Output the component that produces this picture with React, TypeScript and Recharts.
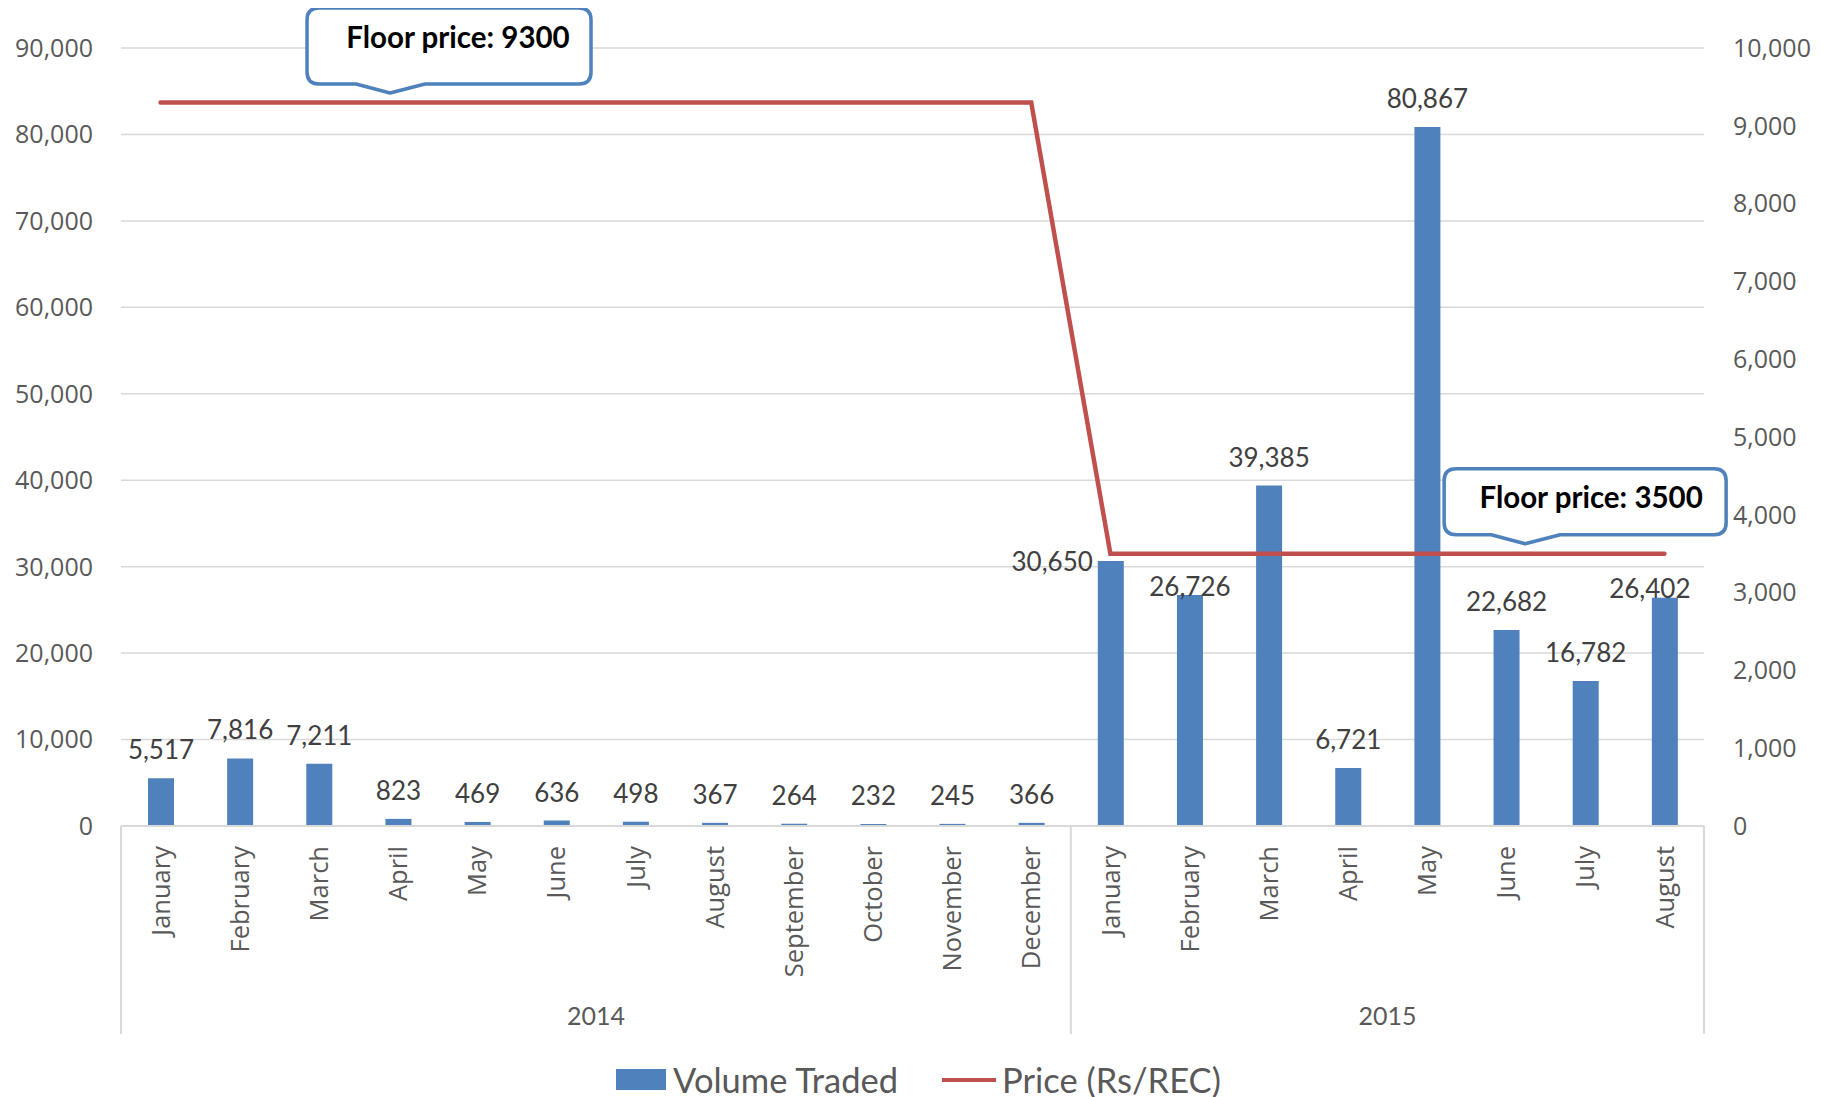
import React from 'react';
import { ComposedChart, Bar, Line, XAxis, YAxis, CartesianGrid, Legend, LabelList, ReferenceDot } from 'recharts';

const months = [
  'January', 'February', 'March', 'April', 'May', 'June', 'July', 'August',
  'September', 'October', 'November', 'December',
  'January', 'February', 'March', 'April', 'May', 'June', 'July', 'August',
];
const years = [
  2014, 2014, 2014, 2014, 2014, 2014, 2014, 2014, 2014, 2014, 2014, 2014,
  2015, 2015, 2015, 2015, 2015, 2015, 2015, 2015,
];
const volumeTraded = [
  5517, 7816, 7211, 823, 469, 636, 498, 367, 264, 232, 245, 366,
  30650, 26726, 39385, 6721, 80867, 22682, 16782, 26402,
];
const priceRsRec = [
  9300, 9300, 9300, 9300, 9300, 9300, 9300, 9300, 9300, 9300, 9300, 9300,
  3500, 3500, 3500, 3500, 3500, 3500, 3500, 3500,
];
const leftTicks = [0, 10000, 20000, 30000, 40000, 50000, 60000, 70000, 80000, 90000];
const rightTicks = [0, 1000, 2000, 3000, 4000, 5000, 6000, 7000, 8000, 9000, 10000];
const yearLabels = ['2014', '2015'];

const data = months.map((m, i) => ({
  key: `${m} ${years[i]}`,
  month: m,
  year: years[i],
  volume: volumeTraded[i],
  price: priceRsRec[i],
}));

const W = 1821;
const H = 1089;
const PLOT_W = 1583;
const BAND = PLOT_W / data.length;
const MONTH_AXIS_H = 150;
const YEAR_AXIS_H = 58;

const BLUE = '#4F81BD';
const RED = '#C0504D';
const GRID = '#D9D9D9';
const TEXT = '#595959';
const LABEL = '#404040';
const tickFont = "'Open Sans', sans-serif";
const labelFont = "Lato, 'Noto Sans', sans-serif";

const fmt = (v: number) => v.toLocaleString('en-US');

const MonthTick = (props: any) => {
  const { x, y, payload } = props;
  const m = data[payload.index]?.month ?? payload.value;
  return (
    <text
      x={x}
      y={y}
      dy="0.36em"
      transform={`rotate(-90, ${x}, ${y})`}
      textAnchor="end"
      fill={TEXT}
      fontSize={25.5}
      fontFamily={tickFont}
    >
      {m}
    </text>
  );
};

const YearTick = (props: any) => {
  const { x, y, payload } = props;
  const i = payload.index;
  const top = y - MONTH_AXIS_H;
  const bottom = y + YEAR_AXIS_H;
  const parts: React.ReactNode[] = [];
  if (i === 0 || i === 12) {
    parts.push(<line key="l" x1={x - BAND / 2} x2={x - BAND / 2} y1={top} y2={bottom} stroke={GRID} strokeWidth={2} />);
  }
  if (i === data.length - 1) {
    parts.push(<line key="r" x1={x + BAND / 2} x2={x + BAND / 2} y1={top} y2={bottom} stroke={GRID} strokeWidth={2} />);
  }
  if (i === 5 || i === 15) {
    parts.push(
      <text key="t" x={x + BAND / 2} y={y + 40} dy="0.35em" textAnchor="middle" fill={TEXT} fontSize={25} fontFamily={labelFont}>
        {i === 5 ? yearLabels[0] : yearLabels[1]}
      </text>
    );
  }
  return <g>{parts}</g>;
};

const VolumeLabel = (props: any) => {
  const { x, y, width, value, index } = props;
  let tx = x + width / 2;
  let ty = y - 19;
  let anchor: 'middle' | 'end' = 'middle';
  if (index === 12) {
    tx = x - 5;
    ty = y + 10;
    anchor = 'end';
  } else if (index === 13) {
    ty = y + 1;
  } else if (index === 19) {
    tx = x + width / 2 - 15;
    ty = y;
  }
  return (
    <text x={tx} y={ty} textAnchor={anchor} fill={LABEL} fontSize={26} fontFamily={labelFont}>
      {fmt(value)}
    </text>
  );
};

const Callout = (props: any) => {
  const { cx, cy, dx, dy, w, h, lead, text, textDx, textDy } = props;
  const tx = cx + dx;
  const ty = cy + dy;
  const bottom = ty - 9;
  const top = bottom - h;
  const left = tx - lead;
  const right = left + w;
  const r = 12;
  const d = [
    `M ${left + r} ${top}`,
    `L ${right - r} ${top}`,
    `Q ${right} ${top} ${right} ${top + r}`,
    `L ${right} ${bottom - r}`,
    `Q ${right} ${bottom} ${right - r} ${bottom}`,
    `L ${tx + 35} ${bottom}`,
    `L ${tx} ${ty}`,
    `L ${tx - 34} ${bottom}`,
    `L ${left + r} ${bottom}`,
    `Q ${left} ${bottom} ${left} ${bottom - r}`,
    `L ${left} ${top + r}`,
    `Q ${left} ${top} ${left + r} ${top}`,
    'Z',
  ].join(' ');
  return (
    <g>
      <path d={d} fill="#FFFFFF" stroke={BLUE} strokeWidth={3.5} strokeLinejoin="round" />
      <text
        x={left + w / 2 + textDx}
        y={top + textDy}
        dy="0.35em"
        textAnchor="middle"
        fill="#000000"
        fontSize={29.5}
        fontWeight="bold"
        fontFamily={labelFont}
      >
        {text}
      </text>
    </g>
  );
};

const LegendContent = () => (
  <div
    style={{
      height: 63,
      paddingTop: 28,
      boxSizing: 'border-box',
      display: 'flex',
      justifyContent: 'center',
      alignItems: 'center',
      fontFamily: labelFont,
      fontSize: 34.5,
      color: TEXT,
    }}
  >
    <div style={{ display: 'flex', alignItems: 'center', marginRight: 44 }}>
      <div style={{ width: 50, height: 21, background: BLUE, marginRight: 7 }} />
      <span>Volume Traded</span>
    </div>
    <div style={{ display: 'flex', alignItems: 'center' }}>
      <div style={{ width: 54, height: 4, background: RED, marginRight: 6 }} />
      <span>Price (Rs/REC)</span>
    </div>
  </div>
);

const App: React.FC = () => {
  return (
    <ComposedChart width={W} height={H} data={data} margin={{ top: 40, right: 0, left: 0, bottom: 0 }}>
      <CartesianGrid yAxisId="left" xAxisId="month" vertical={false} stroke={GRID} strokeWidth={1.5} />
      <XAxis
        xAxisId="month"
        dataKey="key"
        interval={0}
        height={MONTH_AXIS_H}
        tickSize={0}
        tickMargin={20}
        tickLine={false}
        axisLine={{ stroke: GRID, strokeWidth: 2 }}
        tick={<MonthTick />}
      />
      <XAxis
        xAxisId="year"
        dataKey="key"
        interval={0}
        height={YEAR_AXIS_H}
        tickSize={0}
        tickMargin={0}
        tickLine={false}
        axisLine={false}
        tick={<YearTick />}
      />
      <YAxis
        yAxisId="left"
        orientation="left"
        width={113}
        domain={[0, 90000]}
        ticks={leftTicks}
        tickFormatter={fmt}
        tickSize={0}
        tickMargin={28}
        axisLine={false}
        tickLine={false}
        tick={{ fill: TEXT, fontSize: 25, fontFamily: tickFont }}
      />
      <YAxis
        yAxisId="right"
        orientation="right"
        width={125}
        domain={[0, 10000]}
        ticks={rightTicks}
        tickFormatter={fmt}
        tickSize={0}
        tickMargin={29}
        axisLine={false}
        tickLine={false}
        tick={{ fill: TEXT, fontSize: 25, fontFamily: tickFont, textAnchor: 'start' }}
      />
      <Legend verticalAlign="bottom" content={<LegendContent />} />
      <Bar
        xAxisId="month"
        yAxisId="left"
        dataKey="volume"
        name="Volume Traded"
        fill={BLUE}
        barSize={26}
        isAnimationActive={false}
      >
        <LabelList dataKey="volume" content={<VolumeLabel />} />
      </Bar>
      <Line
        xAxisId="month"
        yAxisId="right"
        type="linear"
        dataKey="price"
        name="Price (Rs/REC)"
        stroke={RED}
        strokeWidth={4.5}
        strokeLinecap="round"
        dot={false}
        activeDot={false}
        isAnimationActive={false}
      />
      <ReferenceDot
        xAxisId="month"
        yAxisId="right"
        x={data[3].key}
        y={priceRsRec[3]}
        r={1}
        ifOverflow="visible"
        shape={(p: any) => (
          <Callout {...p} dx={-8} dy={-9.5} w={284} h={76} lead={83} text="Floor price: 9300" textDx={9} textDy={30} />
        )}
      />
      <ReferenceDot
        xAxisId="month"
        yAxisId="right"
        x={data[17].key}
        y={priceRsRec[17]}
        r={1}
        ifOverflow="visible"
        shape={(p: any) => (
          <Callout {...p} dx={19} dy={-10} w={282} h={66} lead={81} text="Floor price: 3500" textDx={6} textDy={29} />
        )}
      />
    </ComposedChart>
  );
};

export default App;
